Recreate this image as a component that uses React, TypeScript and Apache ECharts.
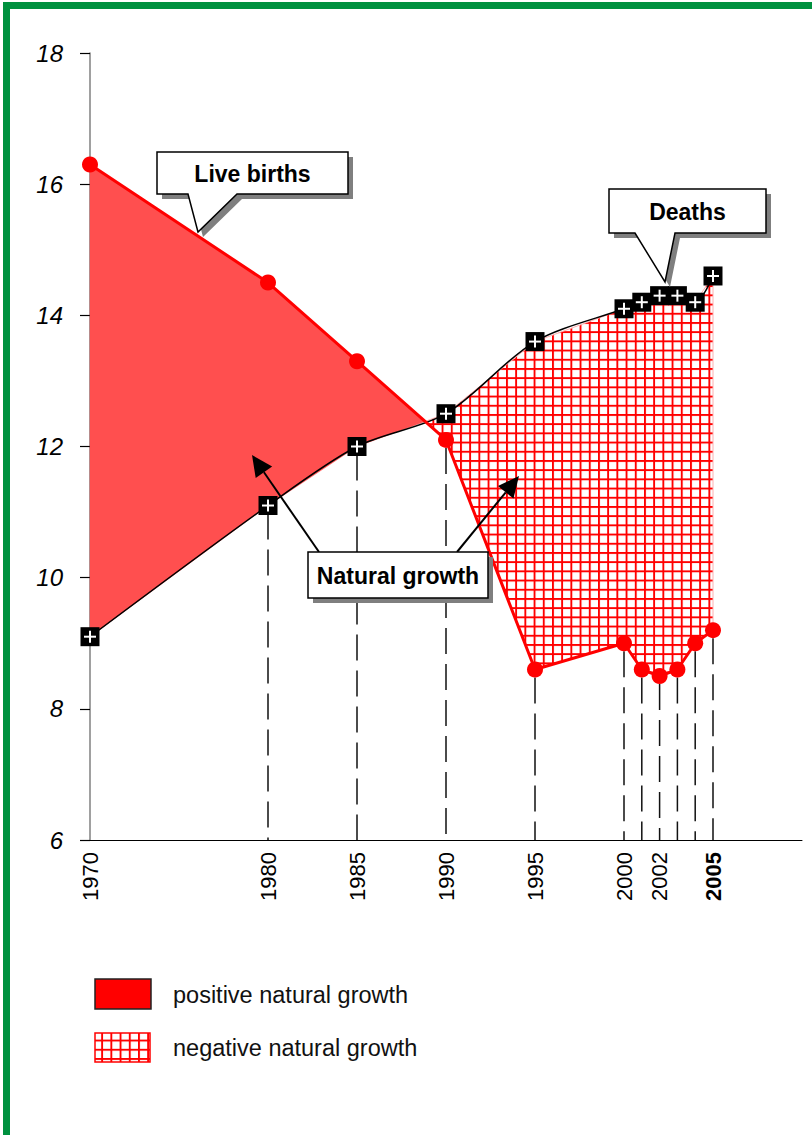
import React, { useEffect, useRef } from 'react';
import * as echarts from 'echarts';

// ---------- data ----------
const years = [1970, 1980, 1985, 1990, 1995, 2000, 2001, 2002, 2003, 2004, 2005];
const liveBirths = [16.3, 14.5, 13.3, 12.1, 8.6, 9.0, 8.6, 8.5, 8.6, 9.0, 9.2];
const deaths = [9.1, 11.1, 12.0, 12.5, 13.6, 14.1, 14.2, 14.3, 14.3, 14.2, 14.6];
const xLabelYears = [1970, 1980, 1985, 1990, 1995, 2000, 2002, 2005];
const boldYear = 2005;
const yMin = 6;
const yMax = 18;
const yStep = 2;
const xMin = 1970;
const xMax = 2010;
const legendLabels = ['positive natural growth', 'negative natural growth'];
const calloutLabels = ['Live births', 'Deaths', 'Natural growth'];

const FONT = '"Liberation Sans", Arial, Helvetica, sans-serif';
const RED = '#ff0000';
const POS_FILL = '#ff4f4f';

const hatchSvg =
  "<svg xmlns='http://www.w3.org/2000/svg' width='9.2' height='9.2'>" +
  "<rect x='0' y='0' width='9.2' height='1.9' fill='#ff0000'/>" +
  "<rect x='0' y='0' width='1.9' height='9.2' fill='#ff0000'/></svg>";
const hatchUrl = 'data:image/svg+xml;charset=utf-8,' + encodeURIComponent(hatchSvg);
const makeHatch = () => ({ image: hatchUrl, repeat: 'repeat', imageWidth: 9.2, imageHeight: 9.2 });

type Pt = [number, number];

function buildRuns() {
  const runs: { sign: number; top: Pt[]; bot: Pt[] }[] = [];
  let cur: { sign: number; top: Pt[]; bot: Pt[] } | null = null;
  for (let i = 0; i < years.length; i++) {
    const diff = liveBirths[i] - deaths[i];
    const sign = diff >= 0 ? 1 : -1;
    if (!cur) {
      cur = { sign, top: [[years[i], liveBirths[i]]], bot: [[years[i], deaths[i]]] };
      continue;
    }
    if (sign === cur.sign) {
      cur.top.push([years[i], liveBirths[i]]);
      cur.bot.push([years[i], deaths[i]]);
    } else {
      const pd = liveBirths[i - 1] - deaths[i - 1];
      const t = pd / (pd - diff);
      const cx = years[i - 1] + t * (years[i] - years[i - 1]);
      const cy = liveBirths[i - 1] + t * (liveBirths[i] - liveBirths[i - 1]);
      cur.top.push([cx, cy]);
      cur.bot.push([cx, cy]);
      runs.push(cur);
      cur = { sign, top: [[cx, cy], [years[i], liveBirths[i]]], bot: [[cx, cy], [years[i], deaths[i]]] };
    }
  }
  if (cur) runs.push(cur);
  return runs;
}

function callout(box: number[], tail: number[] | null, text: string) {
  const [x1, y1, x2, y2] = box;
  const pts: number[][] = tail
    ? [[x1, y1], [x2, y1], [x2, y2], [tail[1], y2], [tail[2], tail[3]], [tail[0], y2], [x1, y2]]
    : [[x1, y1], [x2, y1], [x2, y2], [x1, y2]];
  const shadow = pts.map((p) => [p[0] + 5, p[1] + 5]);
  return [
    { type: 'polygon', shape: { points: shadow }, style: { fill: '#7f7f7f' }, z: 100 },
    { type: 'polygon', shape: { points: pts }, style: { fill: '#fff', stroke: '#000', lineWidth: 1.5 }, z: 101 },
    {
      type: 'text',
      x: (x1 + x2) / 2,
      y: (y1 + y2) / 2 + 1,
      style: {
        text,
        fontSize: 23,
        fontWeight: 'bold',
        fontFamily: FONT,
        fill: '#000',
        align: 'center',
        verticalAlign: 'middle',
      },
      z: 102,
    },
  ];
}

function arrow(from: number[], to: number[]) {
  const dx = from[0] - to[0];
  const dy = from[1] - to[1];
  const L = Math.hypot(dx, dy);
  const ux = dx / L;
  const uy = dy / L;
  const hl = 21;
  const hw = 10;
  const bx = to[0] + ux * hl;
  const by = to[1] + uy * hl;
  const p1 = [bx - uy * hw, by + ux * hw];
  const p2 = [bx + uy * hw, by - ux * hw];
  return [
    { type: 'line', shape: { x1: from[0], y1: from[1], x2: bx, y2: by }, style: { stroke: '#000', lineWidth: 2 }, z: 99 },
    { type: 'polygon', shape: { points: [to, p1, p2] }, style: { fill: '#000' }, z: 99 },
  ];
}

export default function App() {
  const ref = useRef<HTMLDivElement>(null);

  useEffect(() => {
    document.body.style.margin = '0';
    if (!ref.current) return;
    const chart = echarts.init(ref.current, null, { renderer: 'svg' });

    const runs = buildRuns();
    const birthsData = years.map((y, i) => [y, liveBirths[i]]);
    const deathsData = years.map((y, i) => [y, deaths[i]]);
    const dropData = years.map((y, i) => [y, Math.min(liveBirths[i], deaths[i])]);

    const option: any = {
      animation: false,
      grid: { left: 90, right: 10, top: 53, bottom: 295 },
      xAxis: {
        type: 'value',
        min: xMin,
        max: xMax,
        axisLine: { show: true, lineStyle: { color: '#000', width: 1 } },
        axisTick: { show: false },
        splitLine: { show: false },
        axisLabel: {
          customValues: xLabelYears,
          rotate: 90,
          margin: 12,
          formatter: (v: number) => (v === boldYear ? `{b|${v}}` : `{n|${v}}`),
          rich: {
            n: { fontSize: 22, fontFamily: FONT, color: '#000' },
            b: { fontSize: 22, fontFamily: FONT, color: '#000', fontWeight: 'bold' },
          },
        },
      },
      yAxis: {
        type: 'value',
        min: yMin,
        max: yMax,
        interval: yStep,
        axisLine: { show: true, lineStyle: { color: '#808080', width: 1.5 } },
        axisTick: { show: true, length: 10, lineStyle: { color: '#000', width: 1.2 } },
        splitLine: { show: false },
        axisLabel: {
          margin: 27,
          fontSize: 24,
          fontStyle: 'italic',
          fontFamily: FONT,
          color: '#000',
        },
      },
      series: [
        {
          type: 'custom',
          name: 'fills',
          silent: true,
          z: 1,
          data: [[years[0], liveBirths[0]]],
          renderItem: (params: any, api: any) => {
            if (params.dataIndex !== 0) return null;
            const children = runs.map((r) => {
              const pts = r.top.concat(r.bot.slice().reverse()).map((p) => api.coord(p));
              return r.sign > 0
                ? { type: 'polygon', shape: { points: pts }, style: { fill: POS_FILL, stroke: POS_FILL, lineWidth: 0.5 } }
                : { type: 'polygon', shape: { points: pts }, style: { fill: makeHatch(), stroke: '#ffb0b0', lineWidth: 1 } };
            });
            return { type: 'group', children };
          },
        },
        {
          type: 'custom',
          name: 'drops',
          silent: true,
          z: 1,
          data: dropData,
          renderItem: (params: any, api: any) => {
            if (params.dataIndex === 0) return null;
            const top = api.coord([api.value(0), api.value(1)]);
            const bot = api.coord([api.value(0), yMin]);
            return {
              type: 'line',
              shape: { x1: top[0], y1: top[1] + 8, x2: bot[0], y2: bot[1] },
              style: { stroke: '#111', lineWidth: 1.5, lineDash: [26, 10] },
            };
          },
        },
        {
          type: 'line',
          name: 'Deaths',
          data: deathsData,
          smooth: 0.3,
          symbol: 'none',
          z: 3,
          lineStyle: { color: '#000', width: 1.5 },
        },
        {
          type: 'line',
          name: 'Live births',
          data: birthsData,
          symbol: 'circle',
          symbolSize: 16,
          z: 4,
          lineStyle: { color: RED, width: 3 },
          itemStyle: { color: RED },
        },
        {
          type: 'custom',
          name: 'deathMarkers',
          silent: true,
          z: 5,
          data: deathsData,
          renderItem: (params: any, api: any) => {
            const p = api.coord([api.value(0), api.value(1)]);
            const s = 19;
            const h = 6;
            return {
              type: 'group',
              children: [
                { type: 'rect', shape: { x: p[0] - s / 2, y: p[1] - s / 2, width: s, height: s }, style: { fill: '#000' } },
                { type: 'line', shape: { x1: p[0] - h, y1: p[1], x2: p[0] + h, y2: p[1] }, style: { stroke: '#fff', lineWidth: 2 } },
                { type: 'line', shape: { x1: p[0], y1: p[1] - h, x2: p[0], y2: p[1] + h }, style: { stroke: '#fff', lineWidth: 2 } },
              ],
            };
          },
        },
      ],
      graphic: [
        // green frame
        { type: 'rect', shape: { x: 3, y: 2, width: 7, height: 1133 }, style: { fill: '#00913f' }, z: 200 },
        { type: 'rect', shape: { x: 3, y: 2, width: 809, height: 7 }, style: { fill: '#00913f' }, z: 200 },
        // callouts
        ...callout([157, 152, 348, 194], [188, 237, 198, 232], calloutLabels[0]),
        ...callout([609, 189, 766, 233], [635, 675, 665, 282], calloutLabels[1]),
        ...arrow([319, 552], [252, 455]),
        ...arrow([457, 552], [519, 476]),
        ...callout([308, 552, 488, 598], null, calloutLabels[2]),
        // legend
        { type: 'rect', shape: { x: 95, y: 979, width: 56, height: 30 }, style: { fill: RED, stroke: '#222', lineWidth: 1.5 }, z: 100 },
        {
          type: 'text',
          x: 173,
          y: 995,
          style: { text: legendLabels[0], fontSize: 23.5, fontFamily: FONT, fill: '#111', align: 'left', verticalAlign: 'middle' },
          z: 100,
        },
        { type: 'rect', shape: { x: 95, y: 1033, width: 55, height: 29 }, style: { fill: makeHatch(), stroke: RED, lineWidth: 1.5 }, z: 100 },
        {
          type: 'text',
          x: 173,
          y: 1048,
          style: { text: legendLabels[1], fontSize: 23.5, fontFamily: FONT, fill: '#111', align: 'left', verticalAlign: 'middle' },
          z: 100,
        },
      ],
    };

    chart.setOption(option);
    return () => chart.dispose();
  }, []);

  return <div ref={ref} style={{ width: 812, height: 1135, background: '#fff' }} />;
}
